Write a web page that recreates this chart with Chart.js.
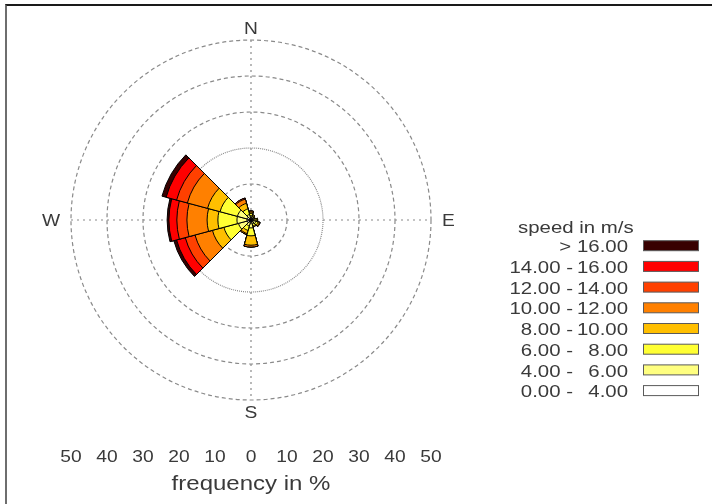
<!DOCTYPE html>
<html>
<head>
<meta charset="utf-8">
<script src="https://cdn.jsdelivr.net/npm/chart.js@4.4.0/dist/chart.umd.min.js"></script>
<style>
  html, body { margin: 0; padding: 0; background: #fff; }
  #wrap { position: relative; width: 712px; height: 504px; overflow: hidden; }
  #rose { position: absolute; left: 0; top: 0; }
  #frame { position: absolute; left: 5px; top: 4px; right: -10px; bottom: -10px;
           border-top: 2px solid #1a1a1a; border-left: 2px solid #6e6e6e; }
</style>
</head>
<body>
<div id="wrap">
  <canvas id="rose" width="712" height="504" style="width:712px;height:504px"></canvas>
  <div id="frame"></div>
</div>
<script>
// 12 direction sectors of 30 degrees, starting at north, clockwise
const directions = ['N', '30', '60', 'E', '120', '150', 'S', '210', '240', 'W', '300', '330'];

const speedLabels = ['0.00 - 4.00', '4.00 - 6.00', '6.00 - 8.00', '8.00 - 10.00',
                     '10.00 - 12.00', '12.00 - 14.00', '14.00 - 16.00', '> 16.00'];
const speedColors = ['#ffffff', '#ffff80', '#ffff33', '#ffbf00',
                     '#ff8000', '#ff4000', '#ff0000', '#380000'];

// frequency in % of each speed class, per direction
const freq0_4    = [0.6, 0.5, 0.5, 0.6, 0.7, 0.6, 0.8, 0.7, 1.1, 1.1, 1.1, 0.6];
const freq4_6    = [0.6, 0.4, 0.3, 0.5, 0.7, 0.6, 1.4, 1.0, 2.5, 2.8, 2.8, 1.0];
const freq6_8    = [0.6, 0.3, 0.2, 0.4, 0.6, 0.5, 2.2, 1.3, 4.2, 5.3, 5.0, 1.6];
const freq8_10   = [0.4, 0.3, 0.2, 0.3, 0.4, 0.3, 2.6, 0.9, 3.3, 3.0, 3.6, 1.6];
const freq10_12  = [0.3, 0.0, 0.0, 0.0, 0.2, 0.0, 0.5, 0.3, 5.0, 5.6, 5.8, 1.2];
const freq12_14  = [0.0, 0.0, 0.0, 0.0, 0.0, 0.0, 0.0, 0.0, 2.8, 2.8, 3.1, 0.3];
const freq14_16  = [0.0, 0.0, 0.0, 0.0, 0.0, 0.0, 0.0, 0.0, 2.5, 2.2, 3.0, 0.0];
const freqOver16 = [0.0, 0.0, 0.0, 0.0, 0.0, 0.0, 0.0, 0.0, 0.8, 0.5, 1.2, 0.0];

// bottom frequency axis, left half negative
const axisTicks = [-50, -40, -30, -20, -10, 0, 10, 20, 30, 40, 50];

const FONT = "'Liberation Sans', Arial, sans-serif";
const TEXT = '#3a3a3a';
const STRETCH = 1.2;   // reference text is rendered wide

// stack the classes: each dataset holds the cumulative frequency,
// dataset 0 (slowest) is drawn last, on top
const classes = [freq0_4, freq4_6, freq6_8, freq8_10, freq10_12, freq12_14, freq14_16, freqOver16];
let running = directions.map(() => 0);
const datasets = classes.map((arr, k) => {
  running = running.map((v, i) => v + arr[i]);
  return {
    label: speedLabels[k],
    data: running.slice(),
    backgroundColor: speedColors[k],
    borderColor: '#000',
    borderWidth: 1
  };
});

function wideText(ctx, text, x, y, align, size) {
  ctx.save();
  ctx.translate(x, y + 2);
  ctx.scale(STRETCH, 1);
  ctx.font = size + 'px ' + FONT;
  ctx.fillStyle = TEXT;
  ctx.textAlign = align;
  ctx.textBaseline = 'middle';
  ctx.fillText(text, 0, 0);
  ctx.restore();
}

const roseDecor = {
  id: 'roseDecor',
  beforeDatasetsDraw(chart) {
    const s = chart.scales.r, ctx = chart.ctx;
    const cx = s.xCenter, cy = s.yCenter, R = s.getDistanceFromCenterForValue(s.max);
    ctx.save();
    ctx.strokeStyle = '#8a8a8a';
    ctx.lineWidth = 1.2;
    ctx.setLineDash([2, 4]);
    ctx.beginPath();
    ctx.moveTo(cx, cy - R); ctx.lineTo(cx, cy + R);
    ctx.moveTo(cx - R, cy); ctx.lineTo(cx + R, cy);
    ctx.stroke();
    ctx.restore();
  },
  afterDraw(chart) {
    const s = chart.scales.r, ctx = chart.ctx;
    const cx = s.xCenter, cy = s.yCenter, R = s.getDistanceFromCenterForValue(s.max);

    // compass letters
    wideText(ctx, 'N', cx, cy - R - 12.5, 'center', 16);
    wideText(ctx, 'S', cx, cy + R + 12, 'center', 16);
    wideText(ctx, 'W', cx - R - 11, cy, 'right', 16);
    wideText(ctx, 'E', cx + R + 11, cy, 'left', 16);

    // frequency axis under the rose
    axisTicks.forEach(v => {
      const d = s.getDistanceFromCenterForValue(Math.abs(v));
      wideText(ctx, String(Math.abs(v)), cx + Math.sign(v) * d, cy + R + 56, 'center', 16);
    });
    wideText(ctx, 'frequency in %', cx, cy + R + 82, 'center', 20);

    // legend, fastest class first
    const lx = 628, top = 226, step = 20.7;
    wideText(ctx, 'speed in m/s', 518, top, 'left', 17);
    chart.data.datasets.slice().reverse().forEach((ds, i) => {
      const y = top + 19.7 + i * step;
      const parts = ds.label.split(' - ');
      if (parts.length === 2) {
        wideText(ctx, parts[0] + ' -', 573, y, 'right', 17);
        wideText(ctx, parts[1], lx, y, 'right', 17);
      } else {
        wideText(ctx, ds.label, lx, y, 'right', 17);
      }
      ctx.save();
      ctx.fillStyle = ds.backgroundColor;
      ctx.strokeStyle = '#5a5a5a';
      ctx.lineWidth = 1;
      ctx.fillRect(643.5, y - 5, 55, 10);
      ctx.strokeRect(643.5, y - 5, 55, 10);
      ctx.restore();
    });
  }
};

new Chart(document.getElementById('rose'), {
  type: 'polarArea',
  data: { labels: directions, datasets: datasets },
  options: {
    responsive: false,
    animation: false,
    layout: { padding: { left: 70, top: 40, right: 280, bottom: 104 } },
    plugins: {
      legend: { display: false },
      tooltip: { enabled: false }
    },
    scales: {
      r: {
        min: 0,
        max: 50,
        startAngle: -15,
        ticks: { display: false, stepSize: 10 },
        grid: { color: '#8a8a8a', lineWidth: 1.2 },
        border: { dash: ctx => (ctx.tick && ctx.tick.value === 20) ? [1, 1] : [4, 3] },
        angleLines: { display: false },
        pointLabels: { display: false }
      }
    }
  },
  plugins: [roseDecor]
});
</script>
</body>
</html>
